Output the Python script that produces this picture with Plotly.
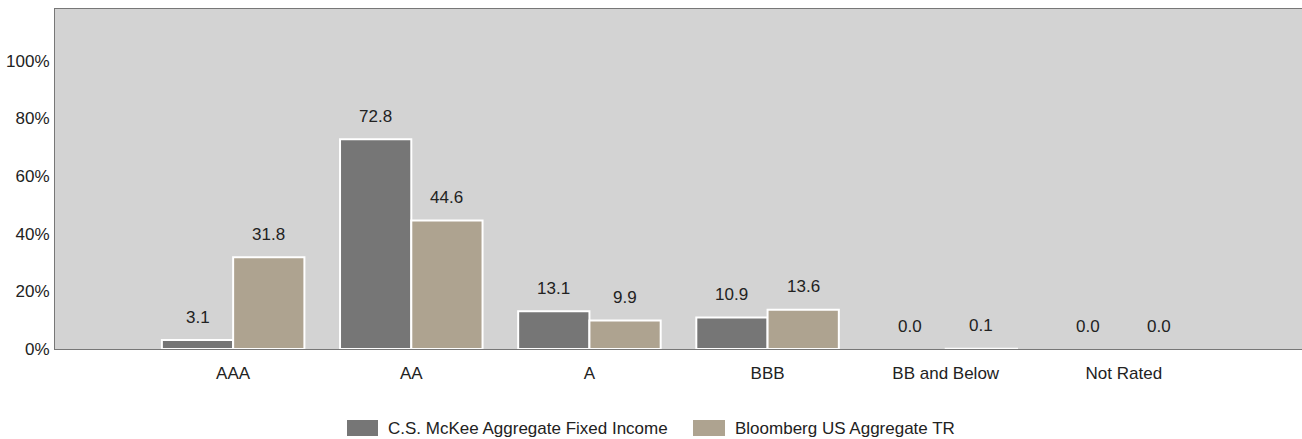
import plotly.graph_objects as go

categories = ["AAA", "AA", "A", "BBB", "BB and Below", "Not Rated"]
mckee = [3.1, 72.8, 13.1, 10.9, 0.0, 0.0]
bloomberg = [31.8, 44.6, 9.9, 13.6, 0.1, 0.0]
series_names = ["C.S. McKee Aggregate Fixed Income", "Bloomberg US Aggregate TR"]
y_ticks = [0, 20, 40, 60, 80, 100]
y_tick_labels = ["0%", "20%", "40%", "60%", "80%", "100%"]

colors = ["#767676", "#aea390"]
FONT = "Liberation Sans, Arial, sans-serif"

fig = go.Figure()
for name, vals, col in zip(series_names, [mckee, bloomberg], colors):
    fig.add_trace(go.Bar(
        x=categories, y=vals, name=name,
        marker=dict(color=col, line=dict(color="white",
                                         width=[2 if v > 0 else 0 for v in vals])),
    ))

W, H = 1302, 439
ml, mr, mt, mb = 55, 0, 9, 90
plot_w = W - ml - mr
plot_h = H - mt - mb
x_range = [-1, len(categories)]
unit_px = plot_w / (x_range[1] - x_range[0])
bar_w_units = 0.8 / 2
annotations = []
for si, vals in enumerate([mckee, bloomberg]):
    offset = (si - 0.5) * bar_w_units * unit_px
    for c, v in zip(categories, vals):
        annotations.append(dict(
            x=c, y=v, xref="x", yref="y", text=f"{v:.1f}",
            showarrow=False, xshift=offset, yshift=23, yanchor="middle",
            font=dict(family=FONT, size=17, color="#222"),
        ))

# custom legend (large rectangular swatches)
def px_x(p):
    return (p - ml) / plot_w

def px_y(p):
    return (H - mb - p) / plot_h

shapes = []
legend_items = [(347, 378, 386), (693, 725, 733)]
for (x0, x1, tx), name, col in zip(legend_items, series_names, colors):
    shapes.append(dict(type="rect", xref="paper", yref="paper",
                       x0=px_x(x0), x1=px_x(x1), y0=px_y(436), y1=px_y(420),
                       fillcolor=col, line=dict(width=0)))
    annotations.append(dict(x=px_x(tx), y=px_y(428), xref="paper", yref="paper",
                            text=name, showarrow=False, xanchor="left", yanchor="middle",
                            font=dict(family=FONT, size=17, color="#222")))

fig.update_layout(
    width=W, height=H,
    margin=dict(l=ml, r=mr, t=mt, b=mb, autoexpand=False),
    paper_bgcolor="white", plot_bgcolor="#d3d3d3",
    barmode="group", bargap=0.2, bargroupgap=0,
    font=dict(family=FONT, size=17, color="#222"),
    annotations=annotations,
    shapes=shapes,
    showlegend=False,
    xaxis=dict(range=x_range, showgrid=False, showline=True, linecolor="#777", linewidth=1,
               mirror=True, ticks="", ticklabelstandoff=9, fixedrange=True, automargin=False),
    yaxis=dict(range=[0, 118], tickvals=y_ticks, ticktext=y_tick_labels, showgrid=False,
               zeroline=False, showline=True, linecolor="#777", linewidth=1, ticks="",
               ticklabelstandoff=1, fixedrange=True, automargin=False),
)

fig.write_html("out.html", config={"displayModeBar": False},
               post_script="document.body.style.margin='0';document.body.style.overflow='hidden';")
